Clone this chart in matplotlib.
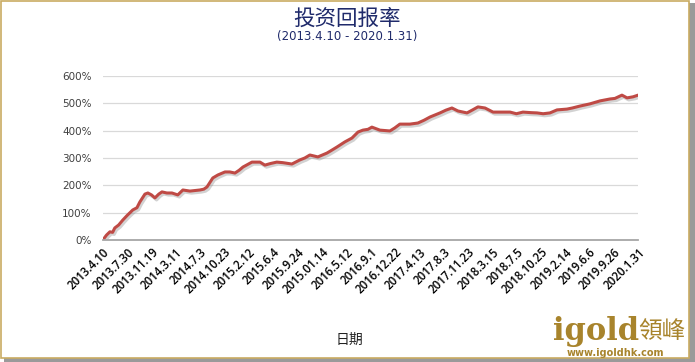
import matplotlib.pyplot as plt
import matplotlib.patheffects as pe
from matplotlib.patches import Rectangle
from matplotlib.ticker import FuncFormatter

plt.rcParams['font.family'] = ['DejaVu Sans', 'Noto Sans CJK SC']

# x labels (category axis, one label every period)
tick_labels = ["2013.4.10", "2013.7.30", "2013.11.19", "2014.3.11", "2014.7.3",
               "2014.10.23", "2015.2.12", "2015.6.4", "2015.9.24", "2015.01.14",
               "2016.5.12", "2016.9.1", "2016.12.22", "2017.4.13", "2017.8.3",
               "2017.11.23", "2018.3.15", "2018.7.5", "2018.10.25", "2019.2.14",
               "2019.6.6", "2019.9.26", "2020.1.31"]

# position measured in label periods, return in %
period = [0, 0.15, 0.29, 0.4, 0.49, 0.65, 0.82, 1.0, 1.23, 1.4, 1.52, 1.73, 1.85,
          2.0, 2.14, 2.3, 2.43, 2.63, 2.84, 3.08, 3.29, 3.58, 3.99, 4.15, 4.28,
          4.52, 4.73, 5.02, 5.22, 5.43, 5.6, 5.76, 6.13, 6.46, 6.66, 6.9, 7.15,
          7.4, 7.77, 8.1, 8.3, 8.51, 8.84, 9.21, 9.4, 9.62, 9.95, 10.24, 10.49,
          10.69, 10.9, 11.06, 11.39, 11.8, 12.0, 12.21, 12.62, 12.95, 13.2,
          13.45, 13.86, 14.1, 14.35, 14.6, 14.97, 15.2, 15.42, 15.71, 16.04,
          16.32, 16.74, 17.0, 17.27, 17.6, 17.85, 18.1, 18.38, 18.67, 19.08,
          19.3, 19.61, 20.02, 20.44, 20.85, 21.05, 21.34, 21.55, 21.8, 22.0]
returns = [0, 18, 30, 28, 44, 55, 73, 90, 110, 118, 139, 168, 172,
           165, 154, 168, 176, 172, 172, 165, 183, 179, 183, 186, 194,
           227, 238, 249, 249, 245, 255, 267, 285, 285, 274, 280, 285,
           283, 278, 293, 300, 311, 304, 318, 328, 340, 359, 373, 395,
           402, 405, 413, 402, 399, 410, 424, 424, 428, 438,
           450, 465, 475, 483, 472, 465, 476, 487, 483, 468,
           468, 468, 462, 468, 466, 465, 462, 465, 476, 479,
           483, 490, 498, 509, 516, 518, 530, 520, 524, 530]

fig = plt.figure(figsize=(6.95, 3.62), dpi=100)

# frame with shadow
fig.patches.append(Rectangle((0.006, 0.0), 0.994, 0.992, transform=fig.transFigure,
                             facecolor='#9a9a9a', edgecolor='none', zorder=-10))
fig.patches.append(Rectangle((0.002, 0.012), 0.99, 0.985, transform=fig.transFigure,
                             facecolor='white', edgecolor='#c9ab62', lw=1.2, zorder=-9))

ax = fig.add_axes([0.148, 0.337, 0.77, 0.453])
ax.patch.set_alpha(0)
ax.plot(period, returns, color='#bf4a45', lw=2.2, solid_capstyle='round',
        path_effects=[pe.SimpleLineShadow(offset=(1.2, -1.5), shadow_color='gray', alpha=0.35),
                      pe.Normal()])

ax.set_xlim(0, 22)
ax.set_ylim(0, 600)
ax.set_yticks(range(0, 601, 100))
ax.yaxis.set_major_formatter(FuncFormatter(lambda v, p: f"{int(v)}%"))
ax.set_xticks(range(len(tick_labels)))
ax.set_xticklabels(tick_labels, rotation=45, ha='right', rotation_mode='anchor',
                   fontsize=8.3, color='black', fontweight='semibold',
                   family=['Open Sans', 'DejaVu Sans'])
ax.tick_params(axis='both', length=0)
ax.tick_params(axis='y', labelsize=7.5, labelcolor='#404040', pad=8)
ax.tick_params(axis='x', pad=4)
ax.grid(axis='y', color='#d9d9d9', lw=0.9)
ax.set_axisbelow(True)
for s in ['top', 'right', 'left']:
    ax.spines[s].set_visible(False)
ax.spines['bottom'].set_color('#a6a6a6')
ax.spines['bottom'].set_linewidth(1.3)

fig.text(0.5, 0.947, "投资回报率", ha='center', va='center', fontsize=15.5,
         color='#1f2a6b', family=['Noto Sans CJK SC'], fontweight='medium')
fig.text(0.5, 0.9, "(2013.4.10 - 2020.1.31)", ha='center', va='center', fontsize=8.5,
         color='#1f2a6b')
fig.text(0.503, 0.062, "日期", ha='center', va='center', fontsize=10,
         color='#222222', family=['Noto Sans CJK SC'])

# logo
gold = '#a8842c'
fig.text(0.857, 0.06, "igold", ha='center', va='baseline', fontsize=22,
         color=gold, fontweight='bold', family='DejaVu Serif')
fig.text(0.953, 0.065, "領峰", ha='center', va='baseline', fontsize=17,
         color=gold, family=['Noto Sans CJK TC'])
fig.text(0.885, 0.025, "www.igoldhk.com", ha='center', va='center', fontsize=7,
         color=gold, fontweight='bold')

fig.savefig("out.png", dpi=100)
